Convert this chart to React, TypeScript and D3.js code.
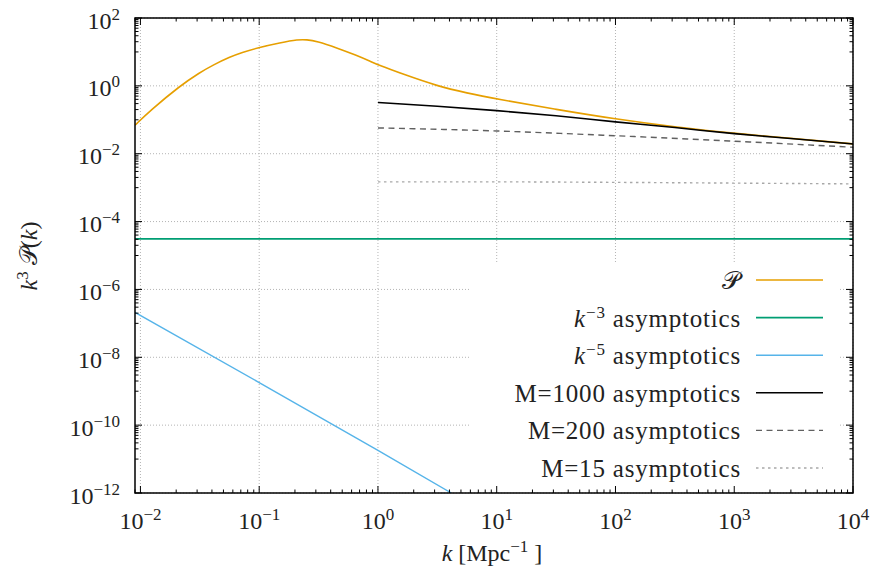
import React from "react";
import * as d3 from "d3";

// ---- data ----
const pK = [0.009, 0.0121, 0.0215, 0.0316, 0.041, 0.0567, 0.0708, 0.1, 0.15, 0.213, 0.251, 0.305, 0.449, 0.66, 0.855, 1.0, 1.63, 3.12, 5.62, 10, 31.9, 100, 316, 1000, 10000];
const pVal = [0.069, 0.187, 1.0, 2.47, 4.15, 7.1, 9.55, 13.6, 18.6, 23.3, 23.0, 20.8, 13.3, 7.9, 5.35, 4.15, 2.2, 1.0, 0.61, 0.41, 0.2, 0.105, 0.061, 0.0395, 0.0195];

const m1000K = [1, 3.16, 10, 31.6, 100, 316, 1000, 3162, 10000];
const m1000Val = [0.324, 0.251, 0.186, 0.132, 0.087, 0.059, 0.039, 0.0275, 0.0193];

const m200K = [1, 10, 100, 1000, 10000];
const m200Val = [0.0575, 0.0468, 0.0339, 0.0234, 0.0155];

const m15K = [1, 10, 100, 1000, 10000];
const m15Val = [0.00148, 0.00148, 0.00143, 0.00136, 0.00129];

const k3K = [0.009, 10000];
const k3Val = [3.1e-5, 3.1e-5];

const k5K = [0.009, 0.1, 1, 4.15];
const k5Val = [2.1e-7, 1.8e-9, 1.8e-11, 1.0e-12];

const xTickExps = [-2, -1, 0, 1, 2, 3, 4];
const yTickExps = [-12, -10, -8, -6, -4, -2, 0, 2];

const legendLabels = ["P", "k-3", "k-5", "M=1000 asymptotics", "M=200 asymptotics", "M=15 asymptotics"];

// ---- layout ----
const W = 873, H = 573;
const L = 135, R = 853, T = 18, B = 493;
const FONT = "'Liberation Serif', 'Times New Roman', serif";

const x = d3.scaleLog().domain([0.009, 1e4]).range([L, R]);
const y = d3.scaleLog().domain([1e-12, 1e2]).range([B, T]);

const lineOf = (curve: d3.CurveFactory) =>
  d3
    .line<[number, number]>()
    .x((d) => x(d[0]))
    .y((d) => y(d[1]))
    .curve(curve);

const pts = (ks: number[], vs: number[]) => ks.map((k, i) => [k, vs[i]] as [number, number]);

const series = [
  { d: pts(pK, pVal), color: "#E69F00", dash: "", w: 1.6, curve: d3.curveBasis },
  { d: pts(k3K, k3Val), color: "#009E73", dash: "", w: 1.6, curve: d3.curveLinear },
  { d: pts(k5K, k5Val), color: "#56B4E9", dash: "", w: 1.4, curve: d3.curveLinear },
  { d: pts(m1000K, m1000Val), color: "#000000", dash: "", w: 1.6, curve: d3.curveMonotoneX },
  { d: pts(m200K, m200Val), color: "#606060", dash: "6 4.5", w: 1.4, curve: d3.curveMonotoneX },
  { d: pts(m15K, m15Val), color: "#a8a8a8", dash: "2.5 3.5", w: 1.4, curve: d3.curveMonotoneX },
];

const sup = (s: string) => s.replace("-", "\u2212");

export default function App() {
  // minor ticks
  const xMinor: number[] = [];
  for (let e = -3; e <= 3; e++) for (let n = 2; n <= 9; n++) {
    const v = n * Math.pow(10, e);
    if (v >= 0.009 && v <= 1e4) xMinor.push(v);
  }
  const yMinor: number[] = [];
  for (let e = -12; e < 2; e += 2) for (let n = 1; n <= 9; n++) yMinor.push(n * Math.pow(10, e + 1));

  const gridStyle = { stroke: "#b4b4b4", strokeWidth: 1, strokeDasharray: "1 2" };

  return (
    <svg width={W} height={H} style={{ position: "absolute", left: 0, top: 0, background: "#fff" }} fontFamily={FONT}>
      <defs>
        <clipPath id="plot">
          <rect x={L} y={T} width={R - L} height={B - T} />
        </clipPath>
      </defs>
      <rect x={0} y={0} width={W} height={H} fill="#fff" />
      {/* grid */}
      {xTickExps.map((e) => (
        <line key={"gx" + e} x1={x(Math.pow(10, e))} x2={x(Math.pow(10, e))} y1={T} y2={B} {...gridStyle} />
      ))}
      {yTickExps.map((e) => (
        <line key={"gy" + e} x1={L} x2={R} y1={y(Math.pow(10, e))} y2={y(Math.pow(10, e))} {...gridStyle} />
      ))}
      {/* legend box (opaque) */}
      <rect x={470} y={262} width={368} height={B - 262 - 1} fill="#fff" />
      {/* curves */}
      <g clipPath="url(#plot)">
        {series.map((s, i) => (
          <path key={i} d={lineOf(s.curve)(s.d) || ""} fill="none" stroke={s.color} strokeWidth={s.w} strokeDasharray={s.dash || undefined} />
        ))}
      </g>
      {/* ticks */}
      <g stroke="#000" strokeWidth={1}>
        {xTickExps.map((e) => {
          const px = x(Math.pow(10, e));
          return (
            <g key={"tx" + e}>
              <line x1={px} x2={px} y1={B} y2={B - 7} />
              <line x1={px} x2={px} y1={T} y2={T + 7} />
            </g>
          );
        })}
        {xMinor.map((v, i) => {
          const px = x(v);
          return (
            <g key={"mx" + i}>
              <line x1={px} x2={px} y1={B} y2={B - 3.5} />
              <line x1={px} x2={px} y1={T} y2={T + 3.5} />
            </g>
          );
        })}
        {yTickExps.map((e) => {
          const py = y(Math.pow(10, e));
          return (
            <g key={"ty" + e}>
              <line x1={L} x2={L + 7} y1={py} y2={py} />
              <line x1={R} x2={R - 7} y1={py} y2={py} />
            </g>
          );
        })}
        {yMinor.map((v, i) => {
          const py = y(v);
          return (
            <g key={"my" + i}>
              <line x1={L} x2={L + 3.5} y1={py} y2={py} />
              <line x1={R} x2={R - 3.5} y1={py} y2={py} />
            </g>
          );
        })}
      </g>
      <rect x={L} y={T} width={R - L} height={B - T} fill="none" stroke="#000" strokeWidth={1.5} />
      {/* tick labels */}
      {xTickExps.map((e) => (
        <text key={"lx" + e} x={x(Math.pow(10, e))} y={529} textAnchor="middle" fontSize={24} fill="#222">
          <tspan>10</tspan>
          <tspan dy={-9} fontSize={17}>{sup(String(e))}</tspan>
        </text>
      ))}
      {yTickExps.map((e) => (
        <text key={"ly" + e} x={120} y={y(Math.pow(10, e)) + 10.5} textAnchor="end" fontSize={24} fill="#222">
          <tspan>10</tspan>
          <tspan dy={-9} fontSize={17}>{sup(String(e))}</tspan>
        </text>
      ))}
      {/* axis titles */}
      <text x={492} y={561} textAnchor="middle" fontSize={24} fill="#222">
        <tspan fontStyle="italic">k</tspan>
        <tspan> [Mpc</tspan>
        <tspan dy={-9} fontSize={17}>{"\u22121"}</tspan>
        <tspan dy={9}> ]</tspan>
      </text>
      <text transform="translate(37,256) rotate(-90)" textAnchor="middle" fontSize={24} fill="#222">
        <tspan fontStyle="italic">k</tspan>
        <tspan dy={-9} fontSize={17}>3</tspan>
        <tspan dy={9}> </tspan>
        <tspan>{"\u{1D4AB}"}</tspan>
        <tspan>(</tspan>
        <tspan fontStyle="italic">k</tspan>
        <tspan>)</tspan>
      </text>
      {/* legend */}
      {legendLabels.map((lab, i) => {
        const ly = 280 + i * 37.6;
        const s = series[i];
        let content: React.ReactNode;
        if (lab === "P") content = <tspan>{"\u{1D4AB}"}</tspan>;
        else if (lab.startsWith("k-")) {
          content = (
            <>
              <tspan fontStyle="italic">k</tspan>
              <tspan dy={-9} fontSize={17}>{sup(lab.slice(1))}</tspan>
              <tspan dy={9}> asymptotics</tspan>
            </>
          );
        } else content = <tspan>{lab}</tspan>;
        return (
          <g key={"lg" + i}>
            <text x={741} y={ly + 9} textAnchor="end" fontSize={25} letterSpacing={0.8} fill="#222">
              {content}
            </text>
            <line x1={756} x2={823} y1={ly} y2={ly} stroke={s.color} strokeWidth={s.w} strokeDasharray={s.dash || undefined} />
          </g>
        );
      })}
    </svg>
  );
}
